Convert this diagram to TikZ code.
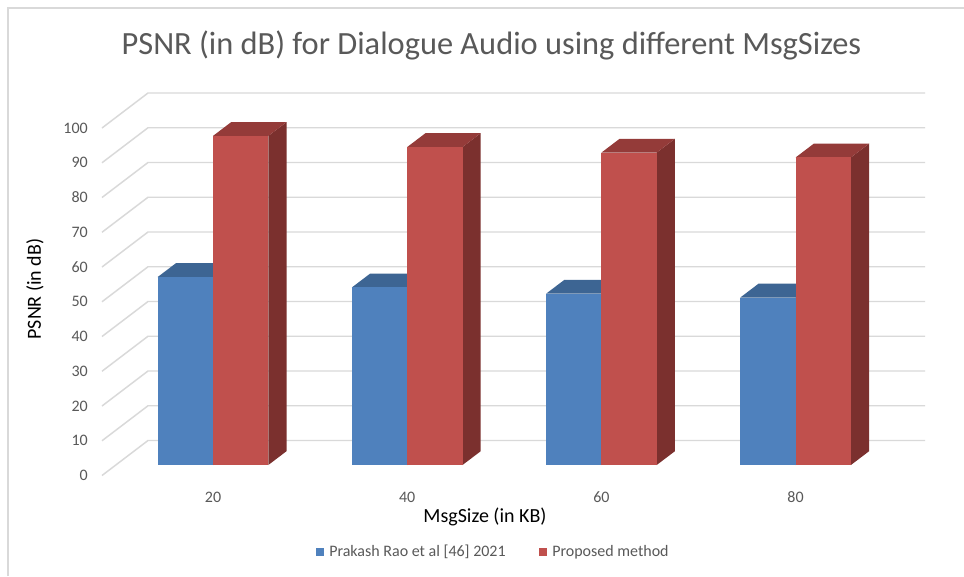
\documentclass[tikz,border=0pt]{standalone}
\usepackage{fontspec}
\setmainfont{Carlito}
\definecolor{gridc}{HTML}{D9D9D9}
\definecolor{txt}{HTML}{595959}
\definecolor{bfront}{HTML}{4F81BD}
\definecolor{btop}{HTML}{3D6593}
\definecolor{bside}{HTML}{36577F}
\definecolor{rfront}{HTML}{C0504D}
\definecolor{rtop}{HTML}{943B39}
\definecolor{rside}{HTML}{7B302E}
\tikzset{
  gridline/.style={draw=gridc, line width=1.1pt},
  framel/.style={draw=gridc, line width=1.4pt},
  ticklab/.style={text=txt, font=\fontsize{12}{14}\selectfont, inner sep=0pt},
  axtitle/.style={text=black, font=\fontsize{15}{18}\selectfont, inner sep=0pt},
  legtext/.style={text=txt, font=\fontsize{12}{14}\selectfont, inner sep=0pt, anchor=west},
}
\begin{document}
\begin{tikzpicture}[x=0.75pt,y=-0.75pt]
\useasboundingbox (0,0) rectangle (964,576);
\fill[white] (0,0) rectangle (964,576);
% frame
\draw[framel] (8,576) -- (8,8) -- (964,8);
% grid
\foreach \v in {0,10,...,100}{
  \pgfmathsetmacro{\yf}{475.5-3.475*\v}
  \pgfmathsetmacro{\yb}{\yf-35}
  \draw[gridline] (102,\yf) -- (148,\yb) -- (925,\yb);
  \node[ticklab, anchor=east] (t\v) at (88,\yf) {\v};
}
% bars
\def\bw{55.3}
\def\ddx{18.2}
\def\ddy{13.8}
\foreach \i/\bv/\rv/\lab in {0/54.1/94.7/20, 1/51.1/91.5/40, 2/49.3/89.9/60, 3/48.2/88.5/80}{
  \pgfmathsetmacro{\xb}{157.7+194.2*\i}
  \pgfmathsetmacro{\xr}{\xb+\bw}
  \pgfmathsetmacro{\xe}{\xr+\bw}
  \pgfmathsetmacro{\yb}{465-3.475*\bv}
  \pgfmathsetmacro{\yr}{465-3.475*\rv}
  % blue bar
  \fill[bside] (\xr,465) -- (\xr+\ddx,465-\ddy) -- (\xr+\ddx,\yb-\ddy) -- (\xr,\yb) -- cycle;
  \fill[btop] (\xb,\yb) -- (\xb+\ddx,\yb-\ddy) -- (\xr+\ddx,\yb-\ddy) -- (\xr,\yb) -- cycle;
  \fill[bfront] (\xb,\yb) rectangle (\xr,465);
  % red bar
  \fill[rside] (\xe,465) -- (\xe+\ddx,465-\ddy) -- (\xe+\ddx,\yr-\ddy) -- (\xe,\yr) -- cycle;
  \fill[rtop] (\xr,\yr) -- (\xr+\ddx,\yr-\ddy) -- (\xe+\ddx,\yr-\ddy) -- (\xe,\yr) -- cycle;
  \fill[rfront] (\xr,\yr) rectangle (\xe,465);
  \node[ticklab] (c\lab) at (\xr,497) {\lab};
}
% titles
\node[text=txt, font=\fontsize{24.3}{28}\selectfont, inner sep=0pt] (title) at (491.5,45) {PSNR (in dB) for Dialogue Audio using different MsgSizes};
\node[axtitle] (xtitle) at (485,517) {MsgSize (in KB)};
\node[axtitle, rotate=90] (ytitle) at (35,289) {PSNR (in dB)};
% legend
\fill[bfront] (316,548) rectangle (324,556);
\node[legtext] (leg1) at (329,552) {Prakash Rao et al [46] 2021};
\fill[rfront] (539,548) rectangle (547,556);
\node[legtext] (leg2) at (552,552) {Proposed method};
\end{tikzpicture}
\end{document}
